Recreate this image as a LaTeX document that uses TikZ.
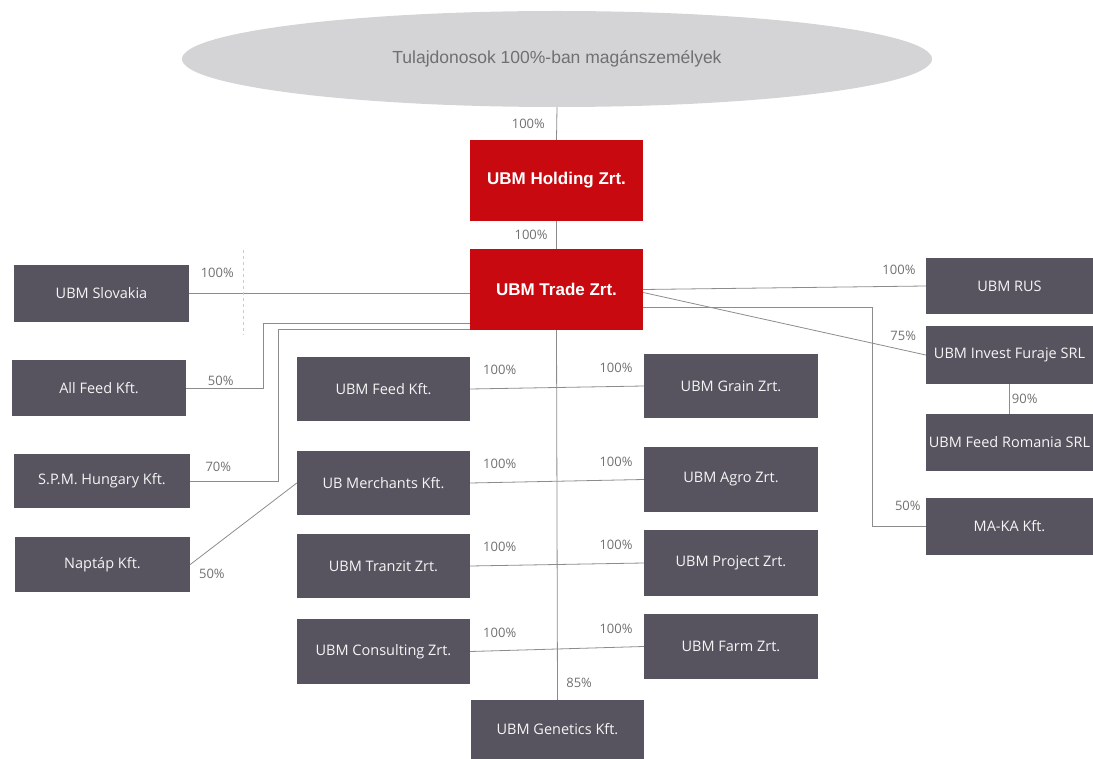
\documentclass[tikz,border=0pt]{standalone}
\usepackage{fontspec}
\setmainfont{Open Sans}
\newfontfamily\headfont{Liberation Sans}
\usetikzlibrary{shapes.geometric}

\definecolor{ubmgray}{HTML}{57545F}
\definecolor{ubmred}{HTML}{C8090F}
\definecolor{ownergray}{HTML}{D4D4D7}
\definecolor{linegray}{HTML}{8C8C8C}
\definecolor{pctgray}{HTML}{707070}

\tikzset{
  company/.style={rectangle, fill=ubmgray, text=white!94!ubmgray, inner sep=0pt,
    font=\fontsize{14.5}{16}\selectfont, minimum width=173pt, minimum height=64pt},
  parent/.style={rectangle, fill=ubmred, text=white, inner sep=0pt,
    font=\headfont\bfseries\fontsize{17}{19}\selectfont, minimum width=173pt, minimum height=81pt},
  owners/.style={ellipse, fill=ownergray, text=pctgray, inner sep=0pt,
    font=\headfont\fontsize{17.5}{19}\selectfont, minimum width=750pt, minimum height=96pt},
  link/.style={draw=linegray, line width=0.8pt},
  pct/.style={text=pctgray, font=\fontsize{13}{15}\selectfont, inner sep=2pt},
}

\begin{document}
\begin{tikzpicture}[x=1pt, y=-1pt]

            \useasboundingbox (0,0) rectangle (1093,759);

            % Nodes

            \node[owners] (owners) at (557,59) {Tulajdonosok 100\%-ban magánszemélyek};
            \node[parent] (holding) at (556.5,180.5) {UBM Holding Zrt.};
            \node[parent] (trade) at (556.5,289.5) {UBM Trade Zrt.};

            \node[company, minimum width=175pt, minimum height=57pt] (slovakia) at (101.5,293.5) {UBM Slovakia};
            \node[company, minimum width=174pt, minimum height=56pt] (allfeed) at (99,388) {All Feed Kft.};
            \node[company, minimum width=176pt, minimum height=54pt] (spm) at (102,481) {S.P.M. Hungary Kft.};
            \node[company, minimum width=175pt, minimum height=55pt] (naptap) at (102.5,564.5) {Naptáp Kft.};

            \node[company] (feed) at (383.5,389) {UBM Feed Kft.};
            \node[company] (merchants) at (383.5,483) {UB Merchants Kft.};
            \node[company] (tranzit) at (383.5,566) {UBM Tranzit Zrt.};
            \node[company, minimum height=65pt] (consulting) at (383.5,651.5) {UBM Consulting Zrt.};

            \node[company, minimum width=174pt] (grain) at (731,386) {UBM Grain Zrt.};
            \node[company, minimum width=174pt, minimum height=65pt] (agro) at (731,479.5) {UBM Agro Zrt.};
            \node[company, minimum width=174pt, minimum height=66pt] (project) at (731,563) {UBM Project Zrt.};
            \node[company, minimum width=174pt, minimum height=65pt] (farm) at (731,646.5) {UBM Farm Zrt.};
            \node[company, minimum height=59pt] (genetics) at (557.5,729.5) {UBM Genetics Kft.};

            \node[company, minimum width=167pt, minimum height=56pt] (rus) at (1009.5,286) {UBM RUS};
            \node[company, minimum width=167pt, minimum height=58pt] (invest) at (1009.5,355) {UBM Invest Furaje SRL};
            \node[company, minimum width=167pt, minimum height=57pt] (romania) at (1009.5,442.5) {UBM Feed Romania SRL};
            \node[company, minimum width=167pt, minimum height=57pt] (maka) at (1009.5,526.5) {MA-KA Kft.};

            \coordinate (allfeedbend) at (263,323);
            \coordinate (spmbend) at (278,329);
            \coordinate (marktop) at (243,250);
            \coordinate (markbottom) at (243,335);

            % Edges with shares

            \draw[link] (owners.south) -- (holding.north) node[midway, left=9.5pt, pct] {100\%};
            \draw[link] (holding.south) -- (trade.north) node[midway, left=6.5pt, pct] {100\%};
            \draw[link] (trade.south) -- (genetics.north) node[pos=0.954, right=6.5pt, pct] {85\%};

            \draw[link] (slovakia.east) -- (slovakia.east -| trade.west) node[pos=0.1, above=13pt, pct] {100\%};
            \draw[link] (allfeed.east) -| (allfeedbend) -- (allfeedbend -| trade.west);
            \path (allfeed.east) -- (allfeedbend |- allfeed.east) node[pos=0.45, above, pct] {50\%};
            \draw[link] (spm.east) -| (spmbend) -- (spmbend -| trade.west);
            \path (spm.east) -- (spmbend |- spm.east) node[pos=0.32, above=7pt, pct] {70\%};
            \draw[link] (naptap.east) -- (merchants.west) node[at start, anchor=west, xshift=6.5pt, yshift=-9pt, pct] {50\%};
            \draw[dashed, draw=linegray!45] (marktop) -- (markbottom);

            \draw[link] (feed.east) -- (grain.west)
              node[pos=0.17, above=11pt, pct] {100\%} node[pos=0.84, above=11pt, pct] {100\%};
            \draw[link] (merchants.east) -- (agro.west)
              node[pos=0.17, above=11pt, pct] {100\%} node[pos=0.84, above=11pt, pct] {100\%};
            \draw[link] (tranzit.east) -- (project.west)
              node[pos=0.17, above=11pt, pct] {100\%} node[pos=0.84, above=11pt, pct] {100\%};
            \draw[link] (consulting.east) -- (farm.west)
              node[pos=0.17, above=11pt, pct] {100\%} node[pos=0.84, above=11pt, pct] {100\%};

            \draw[link] (trade.east) -- (rus.west) node[pos=0.905, above=9pt, pct] {100\%};
            \draw[link] ([yshift=-3pt]trade.east) -- (invest.west) node[pos=0.92, above=7pt, pct] {75\%};
            \draw[link] (invest.south) -- (romania.north) node[midway, right=0pt, pct] {90\%};
            \draw[link] ([yshift=-18pt]trade.east) -| ([xshift=-53pt]maka.west) -- (maka.west)
              node[pos=0.66, above=13pt, pct] {50\%};

\end{tikzpicture}
\end{document}
